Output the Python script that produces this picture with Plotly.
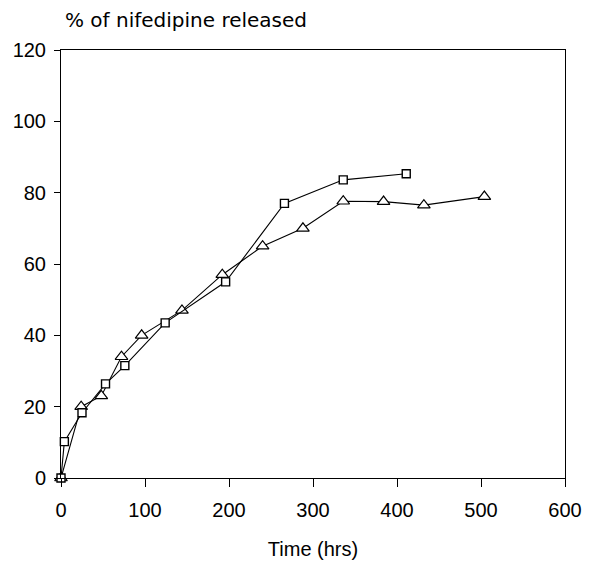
import plotly.graph_objects as go

# Data
tri_time = [0, 24, 48, 72, 96, 144, 192, 240, 288, 336, 384, 432, 504]
tri_release = [0, 20, 23, 34, 40, 47, 57, 65, 70, 77.6, 77.5, 76.5, 78.9]

sq_time = [0, 4, 25, 53, 76, 124, 196, 266, 336, 411]
sq_release = [0, 10.2, 18.3, 26.4, 31.5, 43.5, 55, 77, 83.6, 85.3]

x_ticks = [0, 100, 200, 300, 400, 500, 600]
y_ticks = [0, 20, 40, 60, 80, 100, 120]

FONT = "Liberation Sans"

fig = go.Figure()
fig.add_trace(go.Scatter(
    x=tri_time, y=tri_release, mode="lines+markers",
    line=dict(color="black", width=1.1),
    marker=dict(symbol="triangle-up", size=11, color="white",
                line=dict(color="black", width=1.2)),
    cliponaxis=False, showlegend=False))
fig.add_trace(go.Scatter(
    x=sq_time, y=sq_release, mode="lines+markers",
    line=dict(color="black", width=1.1),
    marker=dict(symbol="square", size=8, color="white",
                line=dict(color="black", width=1.4)),
    cliponaxis=False, showlegend=False))

fig.update_layout(
    width=590, height=562,
    margin=dict(l=61, r=25, t=50, b=84),
    paper_bgcolor="white", plot_bgcolor="white",
    font=dict(family=FONT, color="black", size=20),
    xaxis=dict(range=[0, 600], tickvals=x_ticks, ticks="outside", ticklen=8,
               tickcolor="black", showline=True, linecolor="black", linewidth=1,
               mirror=True, showgrid=False, zeroline=False, ticklabelstandoff=6,
               automargin=False,
               tickfont=dict(size=20, family=FONT),
               title=dict(text="Time (hrs)", font=dict(size=20, family=FONT), standoff=21)),
    yaxis=dict(range=[0, 120], tickvals=y_ticks, ticks="outside", ticklen=6,
               tickcolor="black", showline=True, linecolor="black", linewidth=1,
               mirror=True, showgrid=False, zeroline=False, ticklabelstandoff=4,
               automargin=False,
               tickfont=dict(size=20, family=FONT)),
    annotations=[dict(text="% of nifedipine released", xref="paper", yref="paper",
                      x=0.004, y=1.0, yshift=30, xanchor="left", yanchor="middle",
                      showarrow=False, font=dict(size=20, family="DejaVu Sans"))],
)

fig.write_html("out.html")
